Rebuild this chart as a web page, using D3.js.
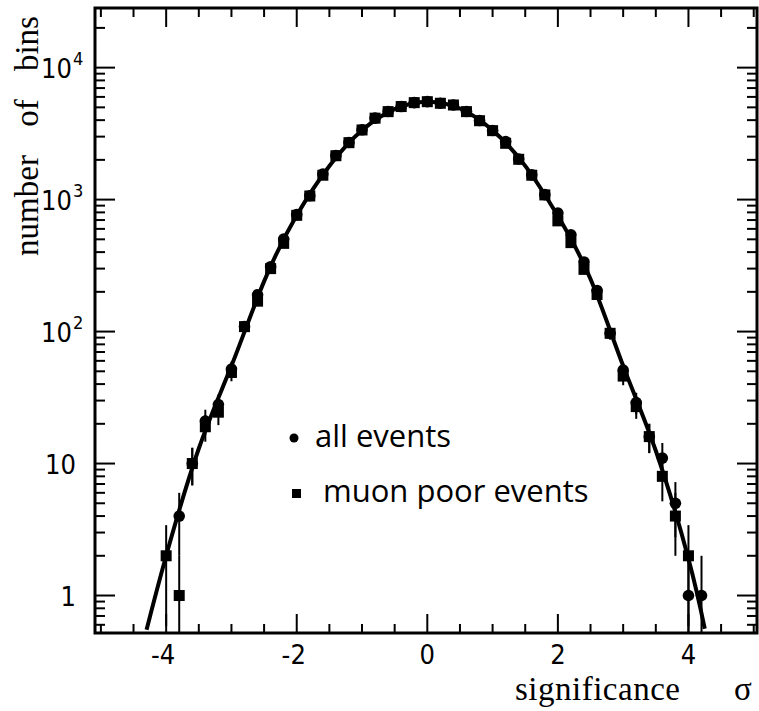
<!DOCTYPE html>
<html><head><meta charset="utf-8">
<script src="https://cdn.jsdelivr.net/npm/d3@7"></script>
<style>body{margin:0;background:#fff}svg{display:block}</style>
</head><body>
<svg id="c" width="759" height="711"></svg>
<script>
// ---- data ----
const bins = [-4.0,-3.8,-3.6,-3.4,-3.2,-3.0,-2.8,-2.6,-2.4,-2.2,-2.0,-1.8,-1.6,-1.4,-1.2,-1.0,-0.8,-0.6,-0.4,-0.2,
  0.0,0.2,0.4,0.6,0.8,1.0,1.2,1.4,1.6,1.8,2.0,2.2,2.4,2.6,2.8,3.0,3.2,3.4,3.6,3.8,4.0,4.2];
const allEvents = [null,4,10,21,28,52,109,190,310,503,770,1070,1560,2160,2710,3380,4140,4650,5070,5430,
  5530,5370,5210,4650,3970,3340,2750,2030,1540,1090,790,540,337,205,97,51,29,16,11,5,1,1];
const muonPoor = [2,1,10,19,24.5,49,109,170,300,466,760,1065,1530,2150,2700,3370,4140,4640,5070,5430,
  5520,5370,5210,4640,3960,3330,2670,2020,1530,1085,690,472,296,191,97,46,27,16,8,4,2,null];
const fitX = [-4.3,-4.0,-3.5,-3.0,-2.5,-2.0,-1.5,-1.0,-0.5,0.0,0.5,1.0,1.5,2.0,2.5,3.0,3.5,4.0,4.25];
const fitY = [0.55,2.0,13,55,240,760,1800,3350,4850,5520,4900,3350,1800,750,250,55,12.5,1.9,0.56];
const xTickValues = [-4,-2,0,2,4];
const yTickValues = [1,10,100,1000,10000];
const yTickBase = ["1","10","10","10","10"];
const yTickExp = ["","","2","3","4"];
const legendLabels = ["all events","muon poor events"];

// ---- layout ----
const svg = d3.select("#c");
const L = 95, R = 757, T = 8, B = 633;
const x = d3.scaleLinear().domain([-5.09, 5.05]).range([L, R]);
const y = d3.scaleLog().domain([0.52, 28300]).range([B, T]);
svg.append("defs").append("clipPath").attr("id","pc")
  .append("rect").attr("x",L).attr("y",T).attr("width",R-L).attr("height",B-T);

const tickFont = "'Liberation Sans Narrow','DejaVu Sans Condensed','Open Sans',sans-serif";
const serif = "'Liberation Serif','DejaVu Serif',serif";

// ticks
const g = svg.append("g").attr("stroke","#000").attr("stroke-width",2);
d3.range(-5, 5.01, 0.5).forEach(v => {
  const len = (Math.abs(v) % 2 === 0) ? 19 : 9;
  const px = x(v);
  g.append("line").attr("x1",px).attr("x2",px).attr("y1",B).attr("y2",B-len);
  g.append("line").attr("x1",px).attr("x2",px).attr("y1",T).attr("y2",T+len);
});
const yMinor = [];
[0.1,1,10,100,1000,10000].forEach(d => { for (let k=2;k<=9;k++) yMinor.push(k*d); });
yMinor.filter(v => v > 0.52 && v < 28300).forEach(v => {
  const py = y(v);
  g.append("line").attr("x1",L).attr("x2",L+10).attr("y1",py).attr("y2",py);
  g.append("line").attr("x1",R).attr("x2",R-10).attr("y1",py).attr("y2",py);
});
yTickValues.forEach(v => {
  const py = y(v);
  g.append("line").attr("x1",L).attr("x2",L+20).attr("y1",py).attr("y2",py);
  g.append("line").attr("x1",R).attr("x2",R-20).attr("y1",py).attr("y2",py);
});

// frame
svg.append("rect").attr("x",L).attr("y",T).attr("width",R-L).attr("height",B-T)
  .attr("fill","none").attr("stroke","#000").attr("stroke-width",3);

// tick labels
svg.append("g").selectAll("text").data(xTickValues).join("text")
  .attr("x", d => x(d) + (d < 0 ? -3 : 0)).attr("y", 664)
  .attr("text-anchor","middle").attr("font-family",tickFont).attr("font-size",27)
  .text(d => d);
svg.append("g").selectAll("text").data(yTickValues).join("text")
  .attr("x", (d,i) => yTickExp[i] ? 72 : 76).attr("y", d => y(d) + 10)
  .attr("text-anchor","end").attr("font-family",tickFont).attr("font-size",27)
  .text((d,i) => yTickBase[i]);
svg.append("g").selectAll("text").data(yTickValues.filter((d,i)=>yTickExp[i])).join("text")
  .attr("x", 73).attr("y", d => y(d) - 3)
  .attr("font-family",tickFont).attr("font-size",18)
  .text((d,i) => yTickExp[i+2]);

// axis titles
svg.append("text").attr("transform","translate(38,136) rotate(-90)")
  .attr("text-anchor","middle").attr("font-family",serif).attr("font-size",33)
  .attr("word-spacing",20).text("number of bins");
svg.append("text").attr("x",515).attr("y",700).attr("font-family",serif).attr("font-size",33)
  .attr("letter-spacing",0.5).text("significance");
svg.append("text").attr("x",734).attr("y",700).attr("font-family",serif).attr("font-size",33)
  .text("σ");

// plot content
const pg = svg.append("g").attr("clip-path","url(#pc)");
function errBars(vals) {
  pg.append("g").attr("stroke","#000").attr("stroke-width",2)
    .selectAll("line").data(bins.map((b,i)=>[b,vals[i]]).filter(d=>d[1]!=null)).join("line")
    .attr("x1", d => x(d[0])).attr("x2", d => x(d[0]))
    .attr("y1", d => y(d[1] + Math.sqrt(d[1])))
    .attr("y2", d => { const lo = d[1] - Math.sqrt(d[1]); return lo > 0.52 ? y(lo) : B; });
}
errBars(allEvents);
errBars(muonPoor);

const line = d3.line().x(d => x(d[0])).y(d => y(d[1])).curve(d3.curveNatural);
pg.append("path").datum(fitX.map((v,i)=>[v,fitY[i]])).attr("d", line)
  .attr("fill","none").attr("stroke","#000").attr("stroke-width",4);

pg.append("g").selectAll("circle").data(bins.map((b,i)=>[b,allEvents[i]]).filter(d=>d[1]!=null)).join("circle")
  .attr("cx", d => x(d[0])).attr("cy", d => y(d[1])).attr("r", 5.8).attr("fill","#000");
pg.append("g").selectAll("rect").data(bins.map((b,i)=>[b,muonPoor[i]]).filter(d=>d[1]!=null)).join("rect")
  .attr("x", d => x(d[0]) - 5.5).attr("y", d => y(d[1]) - 5.5).attr("width", 11).attr("height", 11).attr("fill","#000");

// legend
const lg = svg.append("g");
lg.append("circle").attr("cx",294).attr("cy",438).attr("r",4.5).attr("fill","#000");
lg.append("rect").attr("x",292).attr("y",489).attr("width",9).attr("height",9).attr("fill","#000");
lg.selectAll("text").data(legendLabels).join("text")
  .attr("x", (d,i) => i ? 323 : 315).attr("y", (d,i) => i ? 502 : 447)
  .attr("font-family","'Open Sans',sans-serif").attr("font-size",31).text(d => d);
</script>
</body></html>
